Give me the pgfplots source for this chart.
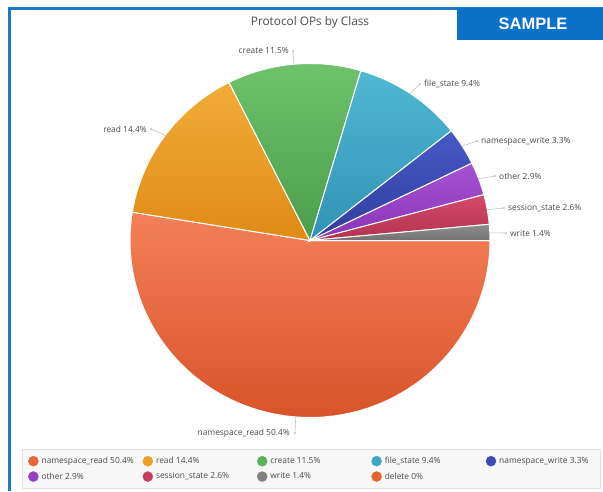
\documentclass[border=0pt]{standalone}
\usepackage{pgfplots}
\pgfplotsset{compat=1.18}
\usepackage{fontspec}
\setmainfont{Open Sans}
\newfontfamily\samplefont{Liberation Sans}

\definecolor{frameblue}{HTML}{1E78C4}
\definecolor{sampleblue}{HTML}{0B72C8}
\definecolor{txt}{HTML}{4A4A4A}
\definecolor{leader}{HTML}{C4C4C4}
\definecolor{nrL}{HTML}{F38057}\definecolor{nrD}{HTML}{D9532A}\definecolor{nrM}{HTML}{E8643A}
\definecolor{rdL}{HTML}{F2AC38}\definecolor{rdD}{HTML}{DF8B16}\definecolor{rdM}{HTML}{EBA024}
\definecolor{crL}{HTML}{6FC26B}\definecolor{crD}{HTML}{4A9E4B}\definecolor{crM}{HTML}{5AB15A}
\definecolor{fsL}{HTML}{50B8D2}\definecolor{fsD}{HTML}{3192B6}\definecolor{fsM}{HTML}{3EA6C6}
\definecolor{nwL}{HTML}{4759C4}\definecolor{nwD}{HTML}{2E3E9E}\definecolor{nwM}{HTML}{3A4CB6}
\definecolor{otL}{HTML}{A453D2}\definecolor{otD}{HTML}{8A34B6}\definecolor{otM}{HTML}{963FC6}
\definecolor{ssL}{HTML}{D24B6A}\definecolor{ssD}{HTML}{B2334F}\definecolor{ssM}{HTML}{C43E5C}
\definecolor{wrL}{HTML}{8E8E8E}\definecolor{wrD}{HTML}{727272}\definecolor{wrM}{HTML}{808080}
\definecolor{dlM}{HTML}{E8642E}

% data (percent of ops by class)
\def\vA{50.4}% namespace_read
\def\vB{14.4}% read
\def\vC{11.5}% create
\def\vD{9.4}%  file_state
\def\vE{3.3}%  namespace_write
\def\vF{2.9}%  other
\def\vG{2.6}%  session_state
\def\vH{1.4}%  write
\def\vI{0}%    delete
\pgfmathsetmacro\T{\vA+\vB+\vC+\vD+\vE+\vF+\vG+\vH+\vI}
\pgfmathsetmacro\aA{-360*(\vA/\T)}
\pgfmathsetmacro\aB{\aA-360*(\vB/\T)}
\pgfmathsetmacro\aC{\aB-360*(\vC/\T)}
\pgfmathsetmacro\aD{\aC-360*(\vD/\T)}
\pgfmathsetmacro\aE{\aD-360*(\vE/\T)}
\pgfmathsetmacro\aF{\aE-360*(\vF/\T)}
\pgfmathsetmacro\aG{\aF-360*(\vG/\T)}
\pgfmathsetmacro\aH{\aG-360*(\vH/\T)}
\def\cx{310}\def\cy{250.5}\def\Rx{180}\def\Ry{177}
\newcommand\lf{\fontsize{8.4}{10}\selectfont}

\begin{document}
\begin{tikzpicture}
\useasboundingbox (0,0) rectangle (603pt,491pt);
\fill[white] (0,0) rectangle (603pt,491pt);
\draw[line width=3pt, frameblue] (9.5pt,0pt) -- (9.5pt,482.5pt) -- (603pt,482.5pt);
\fill[sampleblue] (457pt,451pt) rectangle (603pt,483pt);
\node[text=white, inner sep=0pt, font=\samplefont\bfseries\fontsize{16.5}{17}\selectfont] at (533pt,467pt) {SAMPLE};
\begin{axis}[
  x=1pt, y=1pt, xmin=0, xmax=603, ymin=0, ymax=491,
  at={(0pt,0pt)}, anchor=south west, hide axis, clip=false,
  legend columns=5, legend cell align=left,
  legend image code/.code={\fill[#1] (5pt,0pt) circle (5pt);},
  legend style={at={(axis cs:22,42)}, anchor=north west, draw=black!12, fill=black!3,
    font=\lf, text=txt, inner xsep=6pt, inner ysep=6.5pt,
    row sep=4.5pt, nodes={inner xsep=3pt, inner ysep=1.5pt}},
]
\addplot[draw=white, line width=1pt, top color=nrL, bottom color=nrD, domain=\aA:0, samples=120, variable=\t, forget plot]
  ({\cx+\Rx*cos(\t)},{\cy+\Ry*sin(\t)}) -- (axis cs:\cx,\cy) -- cycle;
\addplot[draw=white, line width=1pt, top color=rdL, bottom color=rdD, domain=\aB:\aA, samples=50, variable=\t, forget plot]
  ({\cx+\Rx*cos(\t)},{\cy+\Ry*sin(\t)}) -- (axis cs:\cx,\cy) -- cycle;
\addplot[draw=white, line width=1pt, top color=crL, bottom color=crD, domain=\aC:\aB, samples=50, variable=\t, forget plot]
  ({\cx+\Rx*cos(\t)},{\cy+\Ry*sin(\t)}) -- (axis cs:\cx,\cy) -- cycle;
\addplot[draw=white, line width=1pt, top color=fsL, bottom color=fsD, domain=\aD:\aC, samples=40, variable=\t, forget plot]
  ({\cx+\Rx*cos(\t)},{\cy+\Ry*sin(\t)}) -- (axis cs:\cx,\cy) -- cycle;
\addplot[draw=white, line width=1pt, top color=nwL, bottom color=nwD, domain=\aE:\aD, samples=20, variable=\t, forget plot]
  ({\cx+\Rx*cos(\t)},{\cy+\Ry*sin(\t)}) -- (axis cs:\cx,\cy) -- cycle;
\addplot[draw=white, line width=1pt, top color=otL, bottom color=otD, domain=\aF:\aE, samples=20, variable=\t, forget plot]
  ({\cx+\Rx*cos(\t)},{\cy+\Ry*sin(\t)}) -- (axis cs:\cx,\cy) -- cycle;
\addplot[draw=white, line width=1pt, top color=ssL, bottom color=ssD, domain=\aG:\aF, samples=20, variable=\t, forget plot]
  ({\cx+\Rx*cos(\t)},{\cy+\Ry*sin(\t)}) -- (axis cs:\cx,\cy) -- cycle;
\addplot[draw=white, line width=1pt, top color=wrL, bottom color=wrD, domain=\aH:\aG, samples=10, variable=\t, forget plot]
  ({\cx+\Rx*cos(\t)},{\cy+\Ry*sin(\t)}) -- (axis cs:\cx,\cy) -- cycle;

\addlegendimage{nrM}\addlegendentry{\makebox[98pt][l]{namespace\_read 50.4\%}}
\addlegendimage{rdM}\addlegendentry{\makebox[98pt][l]{read 14.4\%}}
\addlegendimage{crM}\addlegendentry{\makebox[98pt][l]{create 11.5\%}}
\addlegendimage{fsM}\addlegendentry{\makebox[98pt][l]{file\_state 9.4\%}}
\addlegendimage{nwM}\addlegendentry{\makebox[92pt][l]{namespace\_write 3.3\%}}
\addlegendimage{otM}\addlegendentry{\makebox[98pt][l]{other 2.9\%}}
\addlegendimage{ssM}\addlegendentry{\makebox[98pt][l]{session\_state 2.6\%}}
\addlegendimage{wrM}\addlegendentry{\makebox[98pt][l]{write 1.4\%}}
\addlegendimage{dlM}\addlegendentry{\makebox[98pt][l]{delete 0\%}}

% title
\node[text=txt, font=\fontsize{11.8}{13}\selectfont] at (axis cs:310,469) {Protocol OPs by Class};

% leader lines and labels
\begin{scope}[leader, line width=0.6pt]
\draw (axis cs:294,427.3) -- (axis cs:293,440); \fill (axis cs:293,440) circle (1.2pt);
\draw (axis cs:166.3,355.1) -- (axis cs:151,362); \fill (axis cs:151,362) circle (1.2pt);
\draw (axis cs:409.8,397.4) -- (axis cs:420,407); \fill (axis cs:420,407) circle (1.2pt);
\draw (axis cs:461.5,344.6) -- (axis cs:477,350); \fill (axis cs:477,350) circle (1.2pt);
\draw (axis cs:478,312.2) -- (axis cs:495,315); \fill (axis cs:495,315) circle (1.2pt);
\draw (axis cs:487,281.3) -- (axis cs:504,283); \fill (axis cs:504,283) circle (1.2pt);
\draw (axis cs:489.5,258.2) -- (axis cs:506,258); \fill (axis cs:506,258) circle (1.2pt);
\draw (axis cs:295.7,74) -- (axis cs:295,58); \fill (axis cs:295,58) circle (1.2pt);
\end{scope}
\begin{scope}[every node/.style={text=txt, inner sep=0pt, font=\lf}]
\node[anchor=east] at (axis cs:289,440) {create 11.5\%};
\node[anchor=east] at (axis cs:147,362) {read 14.4\%};
\node[anchor=west] at (axis cs:424,407) {file\_state 9.4\%};
\node[anchor=west] at (axis cs:481,350) {namespace\_write 3.3\%};
\node[anchor=west] at (axis cs:499,315) {other 2.9\%};
\node[anchor=west] at (axis cs:508,283) {session\_state 2.6\%};
\node[anchor=west] at (axis cs:510,258) {write 1.4\%};
\node[anchor=east] at (axis cs:290,58) {namespace\_read 50.4\%};
\end{scope}
\end{axis}
\end{tikzpicture}
\end{document}
